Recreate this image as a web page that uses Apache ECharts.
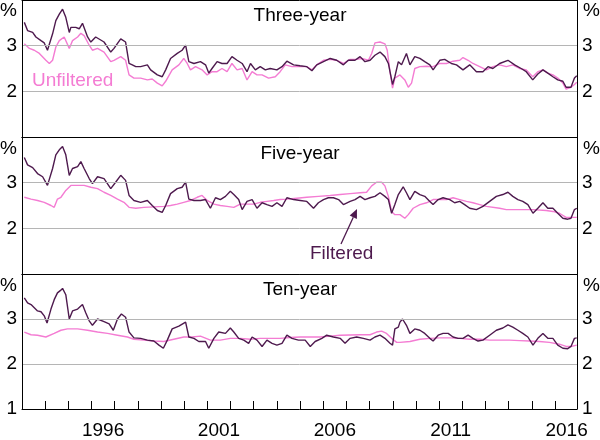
<!DOCTYPE html>
<html>
<head>
<meta charset="utf-8">
<script src="https://cdn.jsdelivr.net/npm/echarts@6/dist/echarts.min.js"></script>
<style>html,body{margin:0;padding:0;background:#fff}#c{width:600px;height:440px}</style>
</head>
<body>
<div id="c"></div>
<script>
// ---- data: [year, per cent] ----
const panelTitles = ['Three-year', 'Five-year', 'Ten-year'];
const yearLabels = [1996, 2001, 2006, 2011, 2016];
const tickYears = [1994,1995,1996,1997,1998,1999,2000,2001,2002,2003,2004,2005,2006,2007,2008,2009,2010,2011,2012,2013,2014,2015,2016];

const threeYearFiltered = [
[1993.10,3.51],[1993.24,3.33],[1993.46,3.29],[1993.60,3.19],[1993.82,3.11],[1993.96,3.06],[1994.10,2.90],[1994.32,3.26],[1994.46,3.55],[1994.61,3.69],[1994.75,3.80],[1994.82,3.76],[1994.89,3.62],[1995.04,3.29],[1995.11,3.40],[1995.32,3.40],[1995.47,3.37],[1995.61,3.49],[1995.83,3.19],[1995.97,3.08],[1996.18,3.19],[1996.54,3.08],[1996.83,2.86],[1996.97,2.94],[1997.26,3.15],[1997.47,3.08],[1997.62,2.61],[1997.76,2.58],[1997.91,2.54],[1998.12,2.54],[1998.41,2.58],[1998.55,2.47],[1998.84,2.36],[1999.05,2.32],[1999.20,2.47],[1999.41,2.72],[1999.70,2.83],[1999.91,2.90],[2000.06,3.01],[2000.20,2.65],[2000.42,2.61],[2000.70,2.65],[2000.92,2.58],[2001.06,2.40],[2001.20,2.50],[2001.42,2.65],[2001.63,2.61],[2001.85,2.61],[2002.06,2.76],[2002.28,2.68],[2002.50,2.61],[2002.71,2.43],[2002.86,2.61],[2003.07,2.47],[2003.28,2.54],[2003.50,2.47],[2003.71,2.50],[2004.00,2.47],[2004.22,2.54],[2004.43,2.66],[2004.72,2.58],[2005.00,2.56],[2005.29,2.54],[2005.51,2.45],[2005.72,2.58],[2006.01,2.65],[2006.30,2.72],[2006.58,2.68],[2006.87,2.58],[2007.08,2.68],[2007.37,2.68],[2007.59,2.76],[2007.80,2.65],[2008.02,2.68],[2008.23,2.79],[2008.45,2.86],[2008.66,2.76],[2008.81,2.61],[2008.88,2.43],[2008.99,2.15],[2009.09,2.32],[2009.24,2.65],[2009.38,2.58],[2009.59,2.83],[2009.74,2.58],[2009.95,2.76],[2010.17,2.72],[2010.38,2.65],[2010.60,2.58],[2010.74,2.47],[2011.03,2.68],[2011.24,2.70],[2011.53,2.61],[2011.75,2.58],[2012.03,2.47],[2012.32,2.58],[2012.61,2.43],[2012.89,2.43],[2013.11,2.54],[2013.32,2.50],[2013.61,2.61],[2013.97,2.68],[2014.26,2.58],[2014.54,2.50],[2014.76,2.43],[2015.04,2.25],[2015.26,2.38],[2015.48,2.47],[2015.69,2.40],[2015.91,2.32],[2016.12,2.25],[2016.34,2.22],[2016.48,2.09],[2016.69,2.09],[2016.84,2.29],[2016.94,2.34]
];
const threeYearUnfiltered = [
[1993.10,3.04],[1993.32,2.94],[1993.53,2.90],[1993.75,2.83],[1994.03,2.68],[1994.18,2.61],[1994.32,2.68],[1994.46,2.97],[1994.61,3.11],[1994.82,3.19],[1995.04,2.94],[1995.18,3.11],[1995.40,3.19],[1995.54,3.27],[1995.68,3.22],[1995.90,3.01],[1996.04,2.90],[1996.26,2.94],[1996.54,2.86],[1996.83,2.65],[1996.97,2.68],[1997.26,2.76],[1997.47,2.68],[1997.62,2.36],[1997.83,2.29],[1998.12,2.29],[1998.41,2.25],[1998.62,2.27],[1998.84,2.18],[1999.05,2.12],[1999.20,2.22],[1999.48,2.47],[1999.77,2.58],[1999.98,2.72],[2000.13,2.61],[2000.27,2.47],[2000.49,2.54],[2000.77,2.47],[2000.99,2.36],[2001.20,2.43],[2001.42,2.43],[2001.63,2.50],[2001.85,2.43],[2002.06,2.61],[2002.28,2.47],[2002.50,2.50],[2002.71,2.25],[2002.93,2.43],[2003.14,2.36],[2003.36,2.36],[2003.64,2.29],[2003.93,2.32],[2004.14,2.43],[2004.36,2.58],[2004.65,2.54],[2005.00,2.54],[2005.29,2.54],[2005.51,2.47],[2005.72,2.58],[2006.01,2.68],[2006.30,2.70],[2006.58,2.68],[2006.87,2.61],[2007.16,2.70],[2007.44,2.70],[2007.66,2.72],[2007.95,2.68],[2008.09,2.83],[2008.23,3.06],[2008.45,3.08],[2008.66,3.04],[2008.76,2.90],[2008.88,2.43],[2008.99,2.07],[2009.09,2.29],[2009.31,2.36],[2009.52,2.25],[2009.67,2.09],[2009.81,2.18],[2009.95,2.50],[2010.17,2.54],[2010.45,2.55],[2010.74,2.54],[2011.03,2.61],[2011.32,2.61],[2011.60,2.66],[2011.89,2.68],[2012.03,2.74],[2012.25,2.68],[2012.46,2.61],[2012.75,2.54],[2013.04,2.47],[2013.32,2.54],[2013.61,2.58],[2013.90,2.54],[2014.18,2.58],[2014.47,2.50],[2014.76,2.47],[2015.04,2.32],[2015.26,2.43],[2015.48,2.47],[2015.69,2.40],[2015.91,2.36],[2016.12,2.29],[2016.34,2.18],[2016.48,2.05],[2016.69,2.09],[2016.84,2.15],[2016.94,2.20]
];
const fiveYearFiltered = [
[1993.10,3.55],[1993.24,3.39],[1993.46,3.33],[1993.67,3.20],[1993.89,3.13],[1994.10,2.94],[1994.32,3.31],[1994.46,3.61],[1994.61,3.72],[1994.75,3.79],[1994.89,3.61],[1995.04,3.16],[1995.18,3.31],[1995.40,3.35],[1995.54,3.46],[1995.68,3.31],[1995.90,3.09],[1996.04,2.98],[1996.26,3.13],[1996.54,3.09],[1996.83,2.87],[1997.04,3.01],[1997.26,3.16],[1997.47,3.05],[1997.62,2.72],[1997.83,2.61],[1998.12,2.57],[1998.41,2.61],[1998.62,2.50],[1998.84,2.39],[1999.05,2.35],[1999.20,2.50],[1999.41,2.76],[1999.70,2.87],[1999.91,2.90],[2000.06,3.01],[2000.20,2.64],[2000.42,2.61],[2000.70,2.61],[2000.92,2.63],[2001.13,2.44],[2001.35,2.67],[2001.56,2.63],[2001.78,2.70],[2001.99,2.81],[2002.14,2.74],[2002.35,2.63],[2002.50,2.41],[2002.71,2.59],[2002.93,2.63],[2003.14,2.44],[2003.36,2.56],[2003.57,2.52],[2003.79,2.48],[2004.00,2.56],[2004.22,2.48],[2004.43,2.67],[2004.72,2.63],[2005.01,2.61],[2005.29,2.59],[2005.58,2.44],[2005.79,2.56],[2006.01,2.63],[2006.22,2.67],[2006.44,2.67],[2006.66,2.63],[2006.87,2.52],[2007.16,2.59],[2007.37,2.63],[2007.59,2.70],[2007.80,2.63],[2008.02,2.67],[2008.23,2.70],[2008.45,2.78],[2008.66,2.70],[2008.81,2.63],[2008.95,2.33],[2009.09,2.52],[2009.24,2.74],[2009.45,2.91],[2009.59,2.78],[2009.74,2.63],[2009.95,2.81],[2010.17,2.74],[2010.38,2.70],[2010.60,2.59],[2010.74,2.52],[2010.96,2.63],[2011.17,2.67],[2011.46,2.63],[2011.67,2.56],[2011.89,2.59],[2012.10,2.52],[2012.32,2.44],[2012.61,2.41],[2012.89,2.48],[2013.18,2.59],[2013.47,2.70],[2013.75,2.74],[2013.97,2.79],[2014.18,2.70],[2014.40,2.63],[2014.61,2.59],[2014.83,2.52],[2015.05,2.33],[2015.26,2.44],[2015.48,2.56],[2015.69,2.44],[2015.91,2.44],[2016.12,2.33],[2016.34,2.22],[2016.55,2.20],[2016.69,2.22],[2016.84,2.41],[2016.94,2.44]
];
const fiveYearUnfiltered = [
[1993.10,2.68],[1993.39,2.64],[1993.67,2.61],[1993.96,2.57],[1994.25,2.50],[1994.39,2.46],[1994.53,2.64],[1994.68,2.68],[1994.89,2.83],[1995.11,2.94],[1995.40,2.94],[1995.68,2.94],[1995.97,2.90],[1996.26,2.87],[1996.54,2.79],[1996.83,2.72],[1997.12,2.64],[1997.40,2.57],[1997.62,2.46],[1997.91,2.44],[1998.26,2.46],[1998.69,2.47],[1999.12,2.48],[1999.41,2.50],[1999.70,2.53],[1999.98,2.57],[2000.27,2.61],[2000.56,2.68],[2000.77,2.72],[2000.99,2.61],[2001.28,2.53],[2001.56,2.50],[2001.85,2.48],[2002.14,2.46],[2002.42,2.53],[2002.71,2.53],[2003.00,2.53],[2003.28,2.57],[2003.57,2.59],[2003.86,2.61],[2004.14,2.63],[2004.43,2.64],[2004.86,2.66],[2005.29,2.68],[2005.79,2.70],[2006.30,2.72],[2006.73,2.74],[2007.16,2.76],[2007.59,2.78],[2007.87,2.79],[2008.09,2.93],[2008.30,3.01],[2008.52,3.01],[2008.66,2.93],[2008.81,2.70],[2008.95,2.37],[2009.09,2.30],[2009.31,2.30],[2009.52,2.22],[2009.67,2.30],[2009.88,2.44],[2010.17,2.52],[2010.46,2.56],[2010.74,2.63],[2011.32,2.63],[2011.60,2.67],[2011.89,2.63],[2012.18,2.59],[2012.46,2.56],[2012.75,2.52],[2013.04,2.48],[2013.61,2.44],[2013.90,2.41],[2014.47,2.41],[2015.05,2.41],[2015.62,2.39],[2015.91,2.37],[2016.19,2.33],[2016.48,2.24],[2016.94,2.24]
];
const tenYearFiltered = [
[1993.10,3.47],[1993.24,3.36],[1993.39,3.32],[1993.53,3.25],[1993.67,3.18],[1993.82,3.16],[1993.96,3.07],[1994.08,2.91],[1994.25,3.22],[1994.39,3.43],[1994.53,3.58],[1994.65,3.63],[1994.75,3.68],[1994.89,3.54],[1995.04,3.00],[1995.18,3.18],[1995.40,3.22],[1995.61,3.32],[1995.75,3.14],[1995.90,2.96],[1996.04,2.86],[1996.26,3.00],[1996.54,2.94],[1996.76,2.89],[1996.94,2.75],[1997.12,3.00],[1997.29,3.11],[1997.47,3.04],[1997.62,2.71],[1997.83,2.58],[1998.12,2.57],[1998.41,2.53],[1998.69,2.51],[1998.91,2.42],[1999.10,2.35],[1999.27,2.53],[1999.48,2.78],[1999.77,2.84],[2000.06,2.93],[2000.20,2.60],[2000.42,2.57],[2000.63,2.50],[2000.92,2.50],[2001.06,2.35],[2001.28,2.57],[2001.49,2.71],[2001.78,2.68],[2001.99,2.80],[2002.14,2.71],[2002.35,2.57],[2002.57,2.53],[2002.78,2.46],[2002.93,2.60],[2003.14,2.53],[2003.36,2.39],[2003.57,2.53],[2003.79,2.46],[2004.00,2.42],[2004.22,2.46],[2004.43,2.64],[2004.65,2.57],[2004.93,2.53],[2005.22,2.53],[2005.44,2.39],[2005.65,2.50],[2005.94,2.57],[2006.15,2.64],[2006.44,2.60],[2006.73,2.57],[2006.94,2.46],[2007.16,2.57],[2007.44,2.60],[2007.73,2.57],[2008.02,2.53],[2008.23,2.60],[2008.45,2.64],[2008.66,2.57],[2008.88,2.46],[2008.99,2.42],[2009.09,2.78],[2009.24,2.82],[2009.31,2.93],[2009.42,3.00],[2009.59,2.86],[2009.74,2.68],[2009.95,2.78],[2010.17,2.75],[2010.38,2.68],[2010.60,2.57],[2010.74,2.51],[2010.96,2.64],[2011.17,2.68],[2011.39,2.68],[2011.60,2.60],[2011.82,2.57],[2012.03,2.57],[2012.25,2.64],[2012.46,2.57],[2012.68,2.51],[2012.89,2.53],[2013.18,2.64],[2013.47,2.75],[2013.75,2.80],[2013.97,2.87],[2014.18,2.82],[2014.40,2.75],[2014.61,2.68],[2014.83,2.60],[2015.05,2.42],[2015.26,2.57],[2015.48,2.68],[2015.69,2.57],[2015.91,2.57],[2016.12,2.42],[2016.34,2.35],[2016.55,2.34],[2016.69,2.39],[2016.84,2.57],[2016.94,2.58]
];
const tenYearUnfiltered = [
[1993.10,2.71],[1993.39,2.65],[1993.67,2.64],[1994.03,2.60],[1994.39,2.68],[1994.68,2.75],[1994.96,2.78],[1995.40,2.78],[1995.83,2.75],[1996.26,2.71],[1996.69,2.68],[1997.12,2.64],[1997.55,2.60],[1997.83,2.55],[1998.26,2.53],[1998.69,2.51],[1999.12,2.50],[1999.55,2.55],[1999.98,2.60],[2000.34,2.60],[2000.70,2.62],[2001.13,2.53],[2001.56,2.53],[2001.99,2.57],[2002.42,2.57],[2002.85,2.55],[2003.28,2.57],[2004.14,2.57],[2004.57,2.59],[2005.01,2.60],[2005.87,2.60],[2006.30,2.62],[2006.73,2.64],[2007.59,2.65],[2008.02,2.65],[2008.30,2.71],[2008.52,2.73],[2008.73,2.68],[2008.95,2.57],[2009.17,2.48],[2009.31,2.48],[2009.74,2.50],[2010.17,2.55],[2010.60,2.57],[2011.03,2.58],[2011.46,2.58],[2011.89,2.57],[2012.32,2.55],[2012.75,2.55],[2013.18,2.53],[2014.04,2.53],[2014.47,2.52],[2014.90,2.51],[2015.33,2.50],[2015.76,2.48],[2016.19,2.44],[2016.48,2.39],[2016.69,2.39],[2016.94,2.42]
];

// ---- styling ----
const FONT = '"Liberation Sans", Arial, sans-serif';
const PINK = '#f47cd3';
const PLUM = '#4e1a4e';
const GRIDC = '#b5b5b5';
const X_MIN = 1993, X_MAX = 2016.95;

const grids = [
  {left: 22, right: 23, top: 0, height: 137},
  {left: 22, right: 23, top: 137, height: 137},
  {left: 22, right: 23, top: 274, height: 137}
];

const xAxes = [];
const yAxes = [];
for (let g = 0; g < 3; g++) {
  const isLast = g === 2;
  xAxes.push({
    gridIndex: g, type: 'value', min: X_MIN, max: X_MAX, position: 'bottom', z: 6,
    axisLine: {show: true, onZero: false, lineStyle: {color: '#000', width: 1}},
    axisTick: isLast ? {show: true, inside: true, length: 8, customValues: tickYears, lineStyle: {color: '#000', width: 1}} : {show: false},
    axisLabel: isLast ? {show: true, margin: 12, fontSize: 19, color: '#000', fontFamily: FONT,
      customValues: yearLabels.map(y => y + 0.5), formatter: v => String(Math.floor(v))} : {show: false},
    splitLine: {show: false}
  });
  xAxes.push({
    gridIndex: g, type: 'value', min: X_MIN, max: X_MAX, position: 'top', z: 6,
    axisLine: {show: true, onZero: false, lineStyle: {color: '#000', width: 1}},
    axisTick: {show: false}, axisLabel: {show: false}, splitLine: {show: false}
  });
  const fmt = v => (v === 2 || v === 3 || (isLast && v === 1)) ? String(v) : '';
  ['left', 'right'].forEach(pos => {
    yAxes.push({
      gridIndex: g, type: 'value', min: 1, max: 4, interval: 1, position: pos, z: 5,
      axisLine: {show: true, onZero: false, lineStyle: {color: '#000', width: 1}},
      axisTick: {show: false},
      splitLine: {show: pos === 'left', showMinLine: false, showMaxLine: false, lineStyle: {color: GRIDC, width: 1}},
      axisLabel: {margin: 5, fontSize: 19, color: '#000', fontFamily: FONT, formatter: fmt}
    });
  });
}

const panelData = [
  [threeYearUnfiltered, threeYearFiltered],
  [fiveYearUnfiltered, fiveYearFiltered],
  [tenYearUnfiltered, tenYearFiltered]
];
const series = [];
panelData.forEach((pair, g) => {
  series.push({type: 'line', xAxisIndex: g * 2, yAxisIndex: g * 2, data: pair[0], showSymbol: false, symbol: 'none',
    lineStyle: {color: PINK, width: 1.4}, z: 2, animation: false});
  series.push({type: 'line', xAxisIndex: g * 2, yAxisIndex: g * 2, data: pair[1], showSymbol: false, symbol: 'none',
    lineStyle: {color: PLUM, width: 1.4}, z: 3, animation: false});
});

const titleY = [16, 154, 290];
const pctY = [11, 149, 286];
const graphics = [];
panelTitles.forEach((t, i) => {
  graphics.push({type: 'text', x: 300, y: titleY[i], style: {text: t, fontSize: 19, fontFamily: FONT, fill: '#000', textAlign: 'center', textVerticalAlign: 'middle'}});
  graphics.push({type: 'text', x: 17, y: pctY[i], style: {text: '%', fontSize: 19, fontFamily: FONT, fill: '#000', textAlign: 'right', textVerticalAlign: 'middle'}});
  graphics.push({type: 'text', x: 583, y: pctY[i], style: {text: '%', fontSize: 19, fontFamily: FONT, fill: '#000', textAlign: 'left', textVerticalAlign: 'middle'}});
});
graphics.push({type: 'text', x: 32, y: 81, style: {text: 'Unfiltered', fontSize: 19, fontFamily: FONT, fill: PINK, textAlign: 'left', textVerticalAlign: 'middle'}});
graphics.push({type: 'text', x: 310, y: 254, style: {text: 'Filtered', fontSize: 19, fontFamily: FONT, fill: PLUM, textAlign: 'left', textVerticalAlign: 'middle'}});
graphics.push({type: 'line', shape: {x1: 341, y1: 244, x2: 353.3, y2: 217.2}, style: {stroke: PLUM, lineWidth: 1.3}, z: 10});
graphics.push({type: 'polygon', shape: {points: [[357, 209], [356.9, 218.9], [349.7, 215.5]]}, style: {fill: PLUM}, z: 10});

const chart = echarts.init(document.getElementById('c'), null, {renderer: 'canvas'});
chart.setOption({
  animation: false,
  backgroundColor: '#fff',
  grid: grids,
  xAxis: xAxes,
  yAxis: yAxes,
  series: series,
  graphic: graphics
});
</script>
</body>
</html>
